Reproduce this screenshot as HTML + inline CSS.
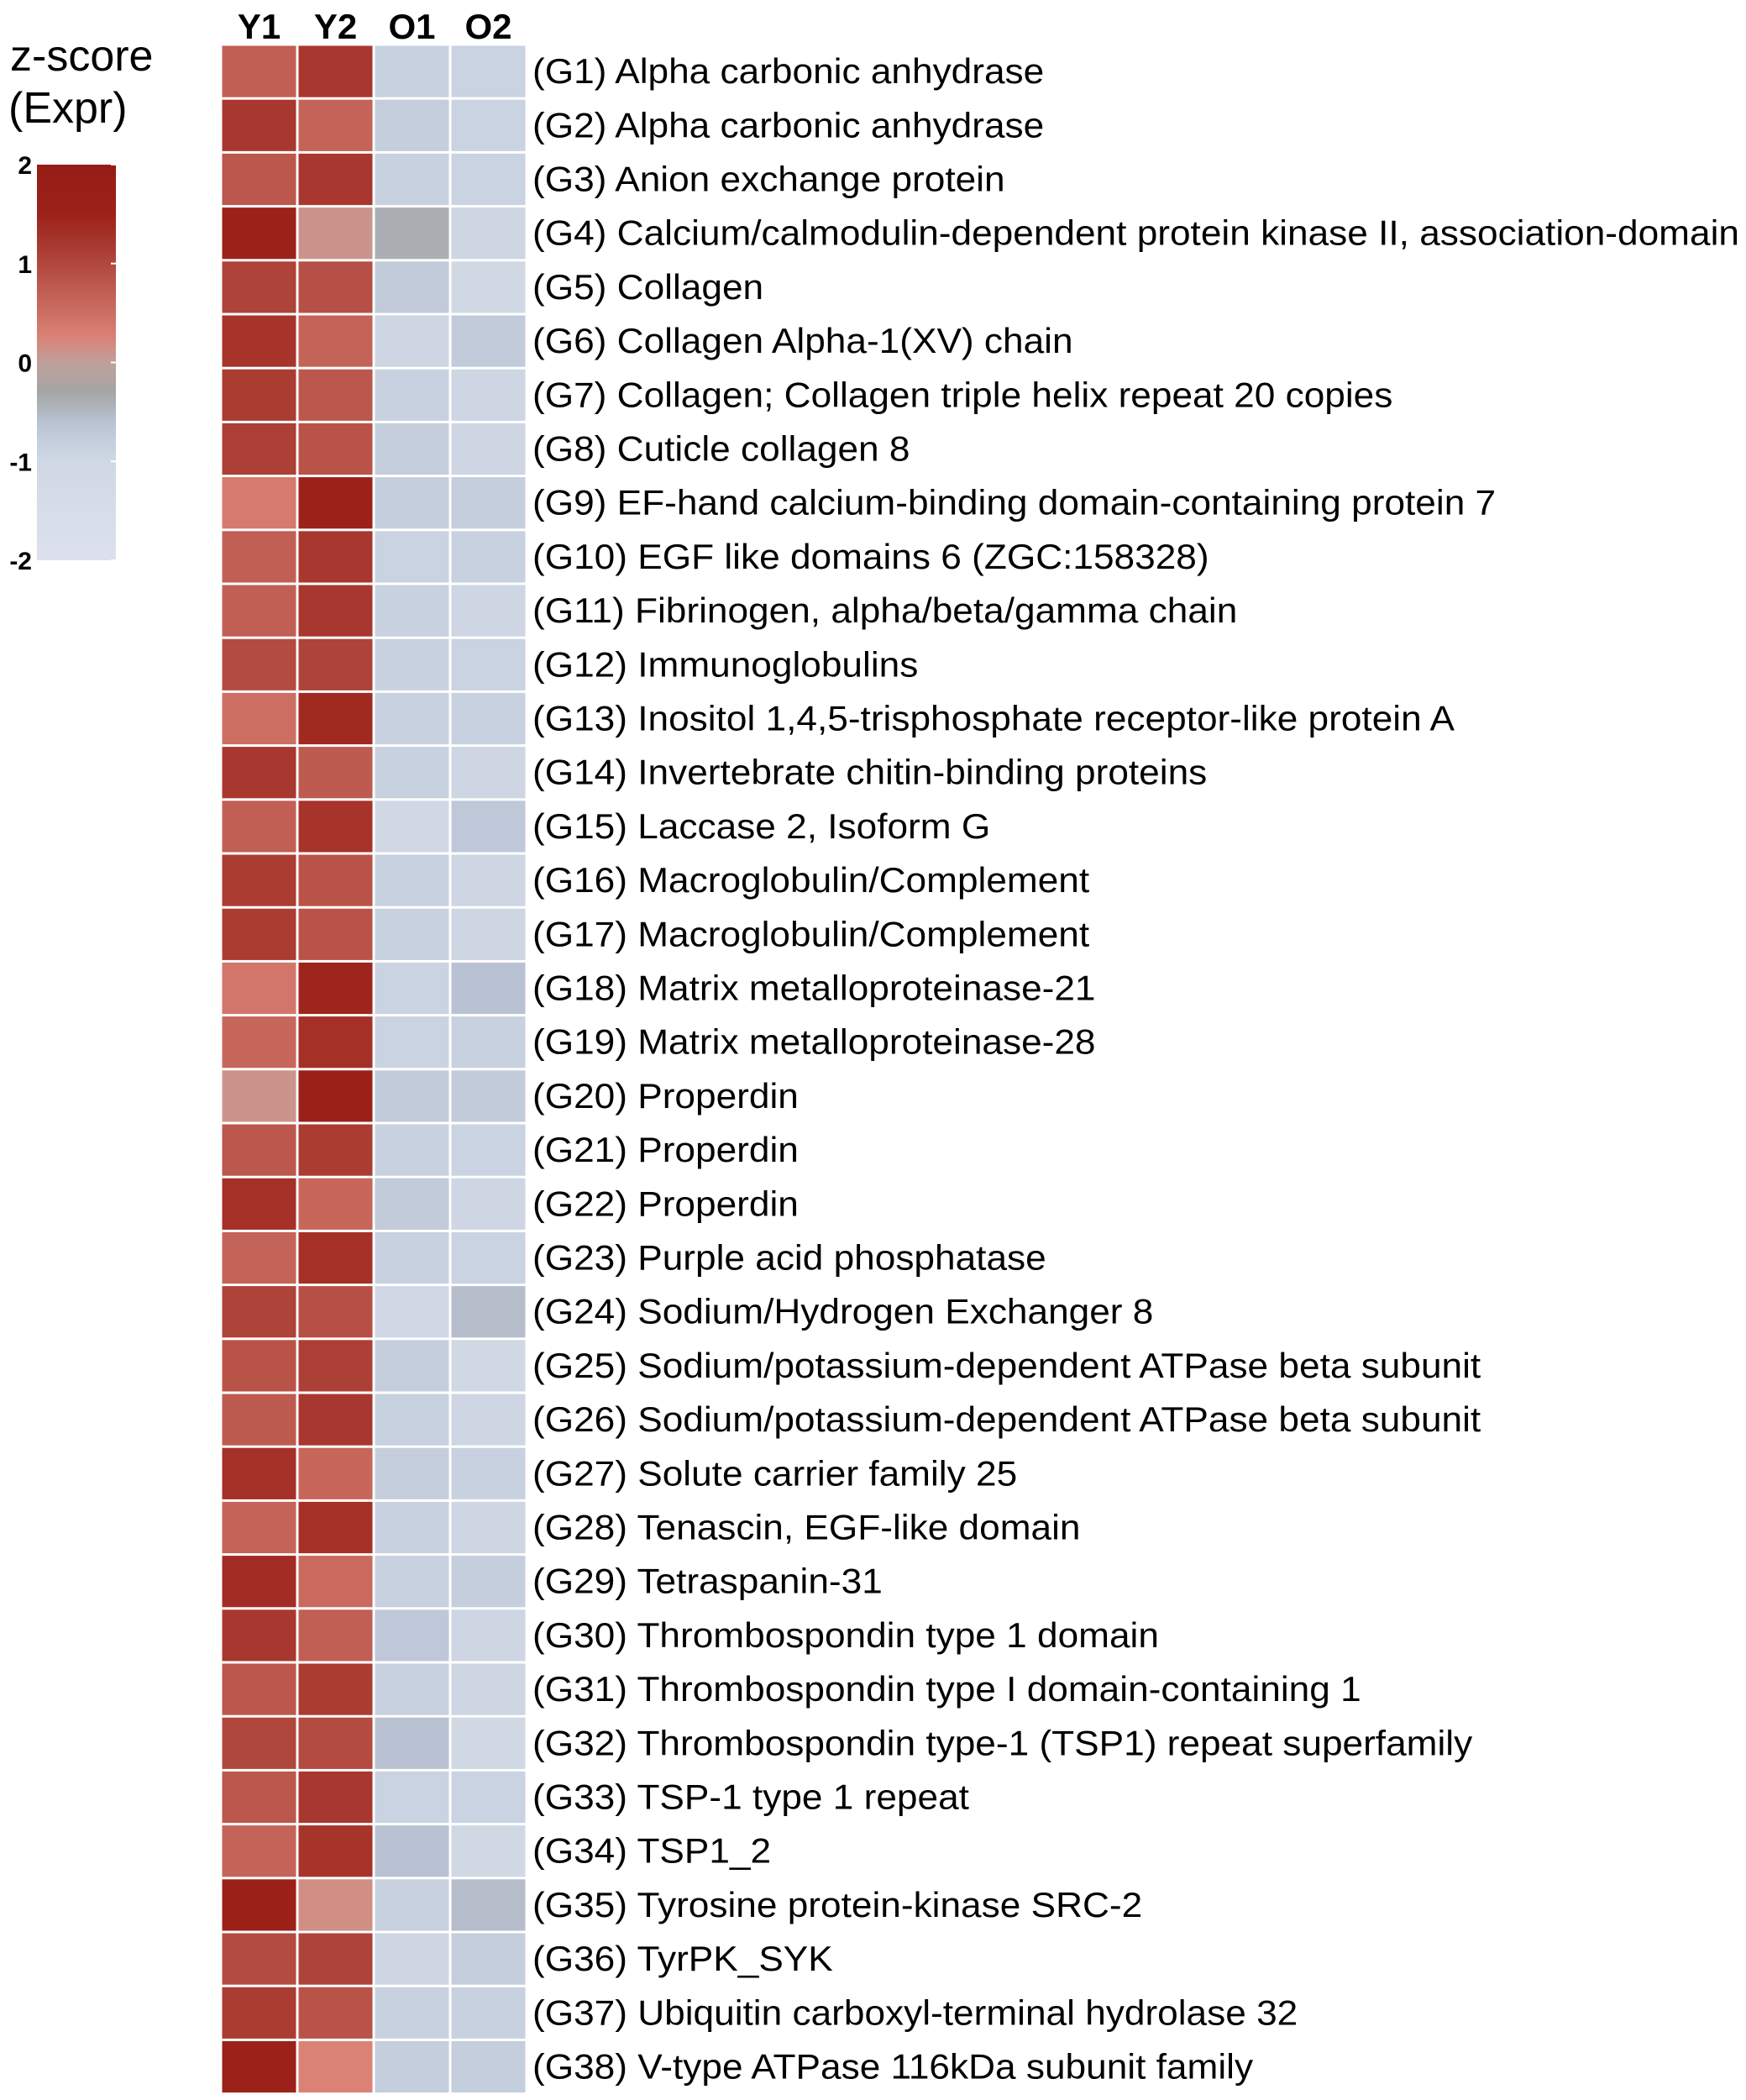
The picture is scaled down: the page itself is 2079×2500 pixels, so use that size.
<!DOCTYPE html>
<html><head><meta charset="utf-8"><style>
html,body{margin:0;padding:0;background:#fff;}
svg{display:block;}
text{font-family:"Liberation Sans",sans-serif;}
</style></head><body>
<svg id="chart" width="2079" height="2500" viewBox="0 0 2079 2500" xmlns="http://www.w3.org/2000/svg">
<defs><linearGradient id="lg" x1="0" y1="0" x2="0" y2="1"></linearGradient></defs>
<g>
<text x="12" y="84" font-size="52">z-score</text>
<text x="10" y="146" font-size="52">(Expr)</text>
<rect x="44" y="196" width="94" height="471" fill="url(#lg)"/>
<g id="legTicks"></g>
</g>
<g id="headers"></g>
<g id="cells"></g>
<g id="labels"></g>
</svg>
<script>
const columns = ["Y1","Y2","O1","O2"];
const genes = ["(G1) Alpha carbonic anhydrase","(G2) Alpha carbonic anhydrase","(G3) Anion exchange protein","(G4) Calcium/calmodulin-dependent protein kinase II, association-domain","(G5) Collagen","(G6) Collagen Alpha-1(XV) chain","(G7) Collagen; Collagen triple helix repeat 20 copies","(G8) Cuticle collagen 8","(G9) EF-hand calcium-binding domain-containing protein 7","(G10) EGF like domains 6 (ZGC:158328)","(G11) Fibrinogen, alpha/beta/gamma chain","(G12) Immunoglobulins","(G13) Inositol 1,4,5-trisphosphate receptor-like protein A","(G14) Invertebrate chitin-binding proteins","(G15) Laccase 2, Isoform G","(G16) Macroglobulin/Complement","(G17) Macroglobulin/Complement","(G18) Matrix metalloproteinase-21","(G19) Matrix metalloproteinase-28","(G20) Properdin","(G21) Properdin","(G22) Properdin","(G23) Purple acid phosphatase","(G24) Sodium/Hydrogen Exchanger 8","(G25) Sodium/potassium-dependent ATPase beta subunit","(G26) Sodium/potassium-dependent ATPase beta subunit","(G27) Solute carrier family 25","(G28) Tenascin, EGF-like domain","(G29) Tetraspanin-31","(G30) Thrombospondin type 1 domain","(G31) Thrombospondin type I domain-containing 1","(G32) Thrombospondin type-1 (TSP1) repeat superfamily","(G33) TSP-1 type 1 repeat","(G34) TSP1_2","(G35) Tyrosine protein-kinase SRC-2","(G36) TyrPK_SYK","(G37) Ubiquitin carboxyl-terminal hydrolase 32","(G38) V-type ATPase 116kDa subunit family"];
const valsY1 = [0.7,1.2,0.8,1.5,1.05,1.25,1.15,1.1,0.35,0.7,0.7,0.95,0.5,1.2,0.7,1.15,1.15,0.4,0.6,0.1,0.8,1.3,0.65,1.05,0.85,0.75,1.3,0.65,1.35,1.2,0.8,1.0,0.8,0.65,1.6,0.95,1.15,1.55];
const valsY2 = [1.2,0.65,1.2,0.1,0.9,0.65,0.8,0.85,1.5,1.2,1.2,1.05,1.4,0.75,1.25,0.85,0.85,1.45,1.3,1.6,1.15,0.6,1.3,0.9,1.1,1.2,0.6,1.3,0.55,0.7,1.15,0.95,1.2,1.25,0.15,1.05,0.85,0.25];
const valsO1 = [-0.85,-0.8,-0.85,-0.4,-0.75,-0.95,-0.85,-0.8,-0.8,-0.9,-0.85,-0.85,-0.85,-0.85,-1.0,-0.85,-0.85,-0.9,-0.9,-0.75,-0.85,-0.75,-0.85,-1.05,-0.8,-0.85,-0.8,-0.85,-0.85,-0.7,-0.85,-0.6,-0.9,-0.6,-0.85,-0.95,-0.85,-0.8];
const valsO2 = [-0.9,-0.9,-0.9,-0.95,-1.0,-0.75,-0.95,-0.95,-0.8,-0.85,-0.95,-0.9,-0.85,-0.95,-0.7,-0.95,-0.95,-0.6,-0.85,-0.75,-0.9,-0.95,-0.9,-0.55,-1.0,-0.95,-0.85,-0.95,-0.8,-0.95,-0.95,-1.0,-0.9,-1.0,-0.55,-0.8,-0.85,-0.8];
const legendTicks = [2,1,0,-1,-2];

const NS="http://www.w3.org/2000/svg";
const stops=[[2,[150,28,22]],[1.5,[156,33,25]],[1,[176,71,61]],[0.25,[219,130,118]],[0,[191,160,156]],[-0.3,[165,165,165]],[-0.6,[184,194,210]],[-0.8,[196,206,221]],[-1,[208,216,228]],[-2,[221,225,238]]];
function color(v){
  v=Math.max(-2,Math.min(2,v));
  for(let i=0;i<stops.length-1;i++){
    const a=stops[i],b=stops[i+1];
    if(v<=a[0]&&v>=b[0]){const t=(a[0]-v)/(a[0]-b[0]);
      const c=a[1].map((x,k)=>Math.round(x+(b[1][k]-x)*t));return `rgb(${c})`;}
  }
  return "rgb(221,225,238)";
}
function el(tag,attrs,parent){const e=document.createElementNS(NS,tag);for(const k in attrs)e.setAttribute(k,attrs[k]);parent.appendChild(e);return e;}
// legend gradient
const lg=document.getElementById('lg');
for(let i=0;i<=40;i++){const v=2-4*i/40;el('stop',{offset:(i/40),'stop-color':color(v)},lg);}
const legY=v=>196+(2-v)/4*471;
const lt=document.getElementById('legTicks');
legendTicks.forEach(v=>{
  const t=el('text',{x:38,y:legY(v)+11,'font-size':30,'font-weight':'bold','text-anchor':'end'},lt);
  
  
  t.textContent=String(v);
  const l=el('line',{x1:132,x2:138,y1:legY(v),y2:legY(v),stroke:'#fff','stroke-width':2},lt);
  
  
});
const x0=263,cw=91,y0=53,rh=64.2;
const xOf=c=>x0+c*cw;
const yOf=r=>y0+r*rh;
const hg=document.getElementById('headers');
columns.forEach((c,i)=>{
  const t=el('text',{x:xOf(i)+cw/2,y:46,'font-size':42,'font-weight':'bold','text-anchor':'middle'},hg);
  
  
  t.textContent=c;
});
const series=[valsY1,valsY2,valsO1,valsO2];
const cg=document.getElementById('cells');
genes.forEach((g,r)=>{
  series.forEach((s,c)=>{
    const rc=el('rect',{x:xOf(c)+1.5,y:yOf(r)+1.5,width:cw-3,height:rh-3,fill:color(s[r])},cg);
    
    
  });
});
const lgp=document.getElementById('labels');
const texts=[];
genes.forEach((g,r)=>{
  const t=el('text',{x:0,y:yOf(r)+rh/2+14,'font-size':42},lgp);
  
  
  t.textContent=g;texts.push(t);
});
const w=texts[3].getComputedTextLength();
const sx=(2071-634)/w;
lgp.setAttribute('transform',`translate(634,0) scale(${sx},1)`);
</script>
</body></html>
